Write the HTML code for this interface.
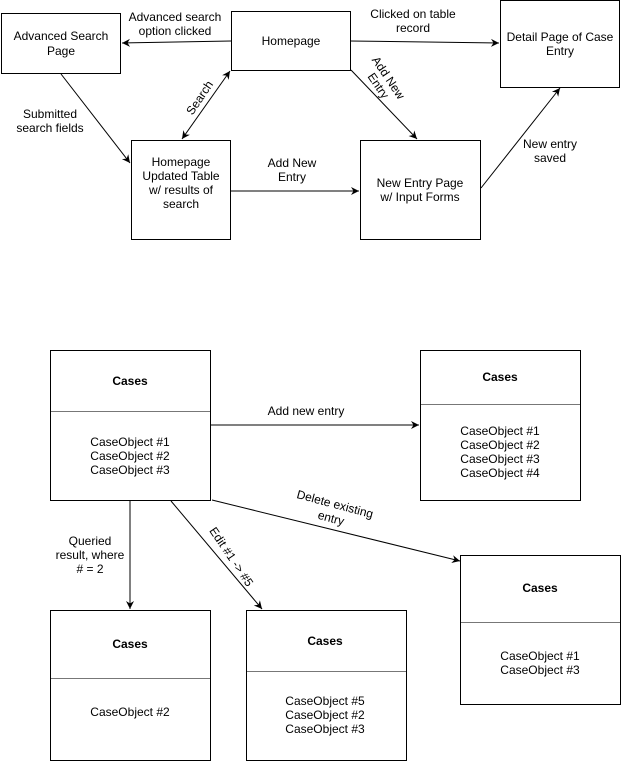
<!DOCTYPE html>
<html><head><meta charset="utf-8"><style>
html,body{margin:0;padding:0;background:#fff;}
svg{display:block;font-family:"Liberation Sans",Arial,sans-serif;font-size:12px;}
</style></head><body>
<svg width="621" height="761" viewBox="0 0 621 761" xmlns="http://www.w3.org/2000/svg">
<defs>
<marker id="a" markerWidth="10" markerHeight="10" refX="9" refY="5" orient="auto" markerUnits="userSpaceOnUse">
<path d="M1,1 L9,5 L1,9 L3.5,5 Z" fill="#000"/></marker>
<marker id="s" markerWidth="10" markerHeight="10" refX="1" refY="5" orient="auto" markerUnits="userSpaceOnUse">
<path d="M9,1 L1,5 L9,9 L6.5,5 Z" fill="#000"/></marker>
</defs>
<g fill="#fff" stroke="#000" stroke-width="1">
<rect x="1.5" y="13.5" width="119" height="60"/>
<rect x="231.5" y="11.5" width="119" height="59"/>
<rect x="500.5" y="0.5" width="119" height="87"/>
<rect x="131.5" y="140.5" width="99" height="99"/>
<rect x="360.5" y="140.5" width="120" height="99"/>
<rect x="50.5" y="350.5" width="160" height="150"/>
<rect x="420.5" y="350.5" width="160" height="150"/>
<rect x="50.5" y="610.5" width="160" height="150"/>
<rect x="246.5" y="610.5" width="160" height="150"/>
<rect x="460.5" y="555.5" width="160" height="149"/>
</g>
<g stroke="#777" stroke-width="1">
<line x1="51" y1="411.5" x2="210" y2="411.5"/>
<line x1="421" y1="404.5" x2="580" y2="404.5"/>
<line x1="51" y1="678.5" x2="210" y2="678.5"/>
<line x1="247" y1="671.5" x2="406" y2="671.5"/>
<line x1="461" y1="622.5" x2="620" y2="622.5"/>
</g>
<g stroke="#000" stroke-width="1" fill="none">
<line x1="231" y1="41" x2="122" y2="43" marker-end="url(#a)"/>
<line x1="350" y1="41" x2="499" y2="43" marker-end="url(#a)"/>
<line x1="61" y1="74" x2="130" y2="163" marker-end="url(#a)"/>
<line x1="230" y1="71" x2="182" y2="139" marker-end="url(#a)" marker-start="url(#s)"/>
<line x1="351" y1="70" x2="417" y2="139" marker-end="url(#a)"/>
<line x1="231" y1="191" x2="359" y2="191" marker-end="url(#a)"/>
<line x1="481" y1="188" x2="560" y2="88" marker-end="url(#a)"/>
<line x1="211" y1="425" x2="419" y2="425" marker-end="url(#a)"/>
<line x1="130" y1="501" x2="130" y2="609" marker-end="url(#a)"/>
<line x1="171" y1="501" x2="262" y2="609" marker-end="url(#a)"/>
<line x1="212" y1="500" x2="460" y2="561" marker-end="url(#a)"/>
</g>
<g text-anchor="middle" fill="#000">
<text x="61" y="40">Advanced Search</text><text x="61" y="55">Page</text>
<text x="291" y="45">Homepage</text>
<text x="560" y="41">Detail Page of Case</text><text x="560" y="55">Entry</text>
<text x="181" y="166">Homepage</text><text x="181" y="180">Updated Table</text><text x="181" y="194">w/ results of</text><text x="181" y="208">search</text>
<text x="420" y="187">New Entry Page</text><text x="420" y="201">w/ Input Forms</text>
<text x="175" y="21">Advanced search</text><text x="175" y="35">option clicked</text>
<text x="413" y="18">Clicked on table</text><text x="413" y="32">record</text>
<text x="50" y="118">Submitted</text><text x="50" y="132">search fields</text>
<text transform="translate(203,100) rotate(-56)">Search</text>
<text transform="translate(385,80) rotate(56)">Add New</text>
<text transform="translate(375,88) rotate(56)">Entry</text>
<text x="292" y="167">Add New</text><text x="292" y="181">Entry</text>
<text x="550" y="148">New entry</text><text x="550" y="162">saved</text>
<g font-weight="bold"><text x="130" y="385">Cases</text><text x="500" y="381">Cases</text><text x="130" y="648">Cases</text><text x="325" y="645">Cases</text><text x="540" y="592">Cases</text></g>
<text x="130" y="446">CaseObject #1</text><text x="130" y="460">CaseObject #2</text><text x="130" y="474">CaseObject #3</text>
<text x="500" y="435">CaseObject #1</text><text x="500" y="449">CaseObject #2</text><text x="500" y="463">CaseObject #3</text><text x="500" y="477">CaseObject #4</text>
<text x="130" y="716">CaseObject #2</text>
<text x="325" y="705">CaseObject #5</text><text x="325" y="719">CaseObject #2</text><text x="325" y="733">CaseObject #3</text>
<text x="540" y="660">CaseObject #1</text><text x="540" y="674">CaseObject #3</text>
<text x="306" y="415">Add new entry</text>
<text x="90" y="545">Queried</text><text x="90" y="559">result, where</text><text x="90" y="573"># = 2</text>
<text transform="translate(228,559) rotate(56)">Edit #1 -&gt; #5</text>
<text transform="translate(334,508) rotate(15)">Delete existing</text>
<text transform="translate(330,522) rotate(15)">entry</text>
</g>
</svg>
</body></html>
